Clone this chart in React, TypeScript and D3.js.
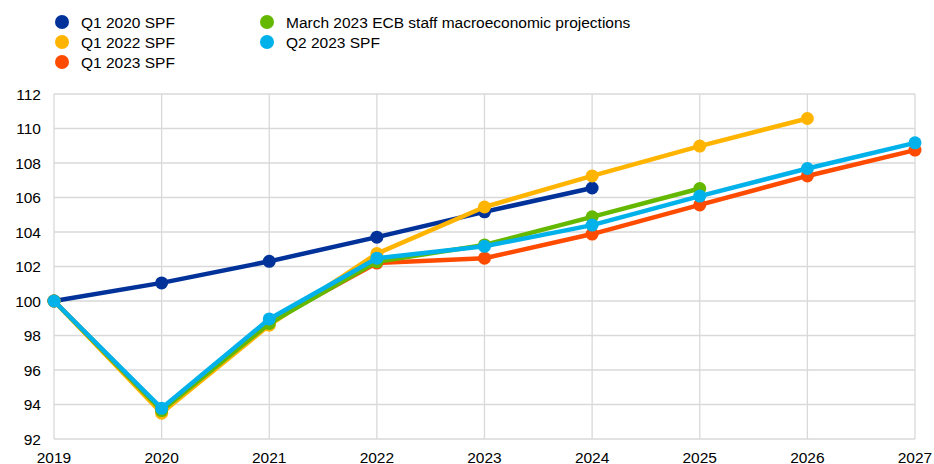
import React from "react";
import * as d3 from "d3";

const years = [2019, 2020, 2021, 2022, 2023, 2024, 2025, 2026, 2027];
const yTicks = [92, 94, 96, 98, 100, 102, 104, 106, 108, 110, 112];

const q1_2020 = [100, 101.05, 102.3, 103.7, 105.17, 106.55];
const q1_2022 = [100, 93.5, 98.6, 102.75, 105.45, 107.25, 108.98, 110.58];
const q1_2023 = [100, 93.7, 98.8, 102.2, 102.48, 103.88, 105.57, 107.25, 108.75];
const ecb_mar2023 = [100, 93.65, 98.7, 102.28, 103.25, 104.88, 106.52];
const q2_2023 = [100, 93.78, 98.96, 102.48, 103.17, 104.4, 106.08, 107.68, 109.17];

const seriesNames = [
  "Q1 2020 SPF",
  "Q1 2022 SPF",
  "Q1 2023 SPF",
  "March 2023 ECB staff macroeconomic projections",
  "Q2 2023 SPF",
];
const seriesColors = ["#003299", "#ffb400", "#ff4b00", "#65b800", "#00b1ea"];
const seriesValues = [q1_2020, q1_2022, q1_2023, ecb_mar2023, q2_2023];

export default function App() {
  const W = 934;
  const H = 464;
  const x = d3.scaleLinear().domain([2019, 2027]).range([54, 915]);
  const y = d3.scaleLinear().domain([92, 112]).range([439, 94]);
  const line = d3
    .line<number>()
    .x((_, i) => x(years[i]))
    .y((d) => y(d));
  const font = "'Liberation Sans', Arial, sans-serif";
  const fs = 15.5;

  const legendPos = [
    { cx: 62, cy: 22 },
    { cx: 62, cy: 42 },
    { cx: 62, cy: 62 },
    { cx: 267, cy: 22 },
    { cx: 267, cy: 42 },
  ];

  return (
    <svg
      width={W}
      height={H}
      style={{ position: "absolute", left: 0, top: 0, background: "#fff" }}
      fontFamily={font}
    >
      {/* grid */}
      {yTicks.map((t) => (
        <line key={"h" + t} x1={x(2019)} x2={x(2027)} y1={y(t)} y2={y(t)} stroke="#d9d9d9" strokeWidth={1.3} />
      ))}
      {years.map((yr) => (
        <line key={"v" + yr} x1={x(yr)} x2={x(yr)} y1={y(112)} y2={y(92)} stroke="#d9d9d9" strokeWidth={1.3} />
      ))}
      {/* y tick labels */}
      {yTicks.map((t) => (
        <text key={"yl" + t} x={41} y={y(t) + 5.5} textAnchor="end" fontSize={fs} fill="#000">
          {t}
        </text>
      ))}
      {years.map((yr) => (
        <text
          key={"xl" + yr}
          x={Math.min(x(yr), W - 19)}
          y={462.5}
          textAnchor="middle"
          fontSize={fs}
          fill="#000"
        >
          {yr}
        </text>
      ))}
      {/* series */}
      {seriesValues.map((vals, si) => (
        <g key={"s" + si}>
          <path d={line(vals) || ""} fill="none" stroke={seriesColors[si]} strokeWidth={4.5} strokeLinejoin="round" />
          {vals.map((v, i) => (
            <circle key={i} cx={x(years[i])} cy={y(v)} r={6.5} fill={seriesColors[si]} />
          ))}
        </g>
      ))}
      {/* legend */}
      {seriesNames.map((n, i) => (
        <g key={"lg" + i}>
          <circle cx={legendPos[i].cx} cy={legendPos[i].cy} r={7} fill={seriesColors[i]} />
          <text x={legendPos[i].cx + 19} y={legendPos[i].cy + 5.5} fontSize={fs} fill="#000">
            {n}
          </text>
        </g>
      ))}
    </svg>
  );
}
